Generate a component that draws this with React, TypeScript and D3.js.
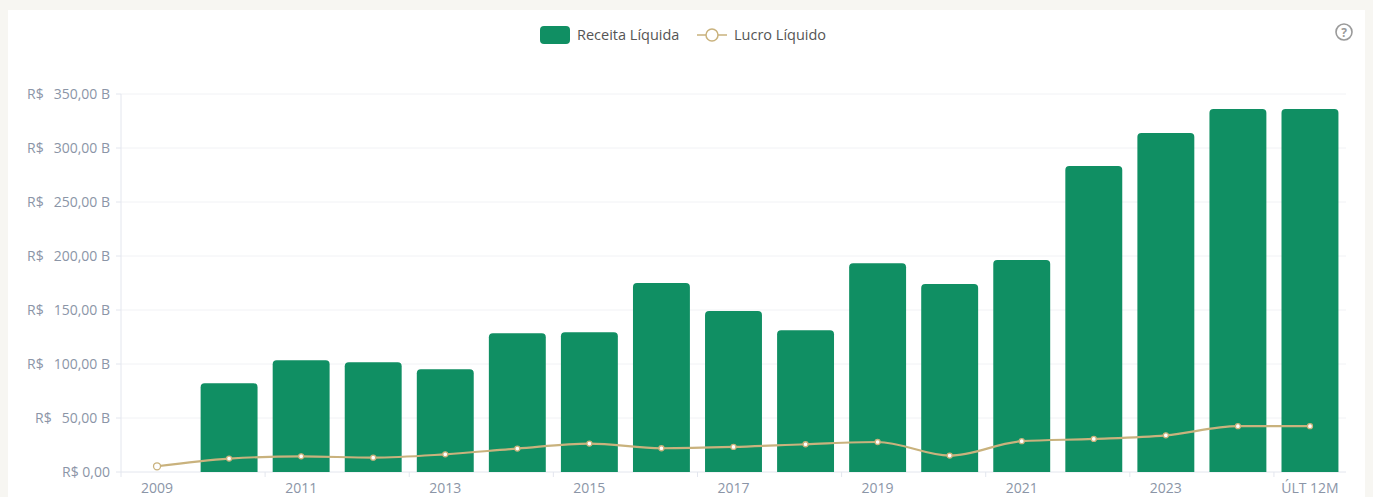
import { useEffect } from 'react';
import { scaleBand, scaleLinear, line, curveMonotoneX } from 'd3';

const categories = ['2009', '2010', '2011', '2012', '2013', '2014', '2015', '2016', '2017', '2018', '2019', '2020', '2021', '2022', '2023', '2024', 'ÚLT 12M'];
const receita: (number | null)[] = [null, 82.2, 103.5, 101.7, 95.2, 128.5, 129.5, 174.9, 149.0, 131.3, 193.4, 174.0, 196.3, 283.4, 314.0, 336.0, 336.0];
const lucro = [5.3, 12.4, 14.5, 13.3, 16.4, 21.7, 26.3, 22.0, 23.2, 25.7, 27.8, 15.2, 28.5, 30.6, 34.0, 42.4, 42.4];
const yTicks = [0, 50, 100, 150, 200, 250, 300, 350];

const W = 1373;
const H = 497;
const margin = { top: 94, right: 27, bottom: 25, left: 121 };
const GREEN = '#108f63';
const TAN = '#c9b27d';
const GRAY = '#8b95a7';
const FONT = '"Open Sans", "Noto Sans", sans-serif';

const num = (v: number) => `${v.toFixed(2).replace('.', ',')} B`;

export default function App() {
  useEffect(() => {
    document.body.style.margin = '0';
  }, []);

  const innerW = W - margin.left - margin.right;
  const innerH = 378;
  const x = scaleBand<string>().domain(categories).range([0, innerW]).paddingInner(0.21).paddingOuter(0.105);
  const band = innerW / categories.length;
  const y = scaleLinear().domain([0, 350]).range([innerH, 0]);
  const cx = (c: string) => (x(c) ?? 0) + x.bandwidth() / 2;

  const lineGen = line<number>()
    .x((_, i) => cx(categories[i]))
    .y(d => y(d))
    .curve(curveMonotoneX);

  const r = 4;
  const barPath = (x0: number, y0: number, w: number, h: number) =>
    `M${x0},${y0 + h}V${y0 + r}Q${x0},${y0} ${x0 + r},${y0}H${x0 + w - r}Q${x0 + w},${y0} ${x0 + w},${y0 + r}V${y0 + h}Z`;

  return (
    <svg width={W} height={H} style={{ display: 'block', fontFamily: FONT }}>
      <rect width={W} height={H} fill="#f7f6f2" />
      <rect x={8} y={10} width={1357} height={H - 10} fill="#ffffff" />

      {/* legend */}
      <g transform="translate(540,26)">
        <rect width={30} height={18} rx={4} fill={GREEN} />
        <text x={37} y={14} fontSize={14.5} fill="#555">Receita Líquida</text>
        <line x1={157} x2={187} y1={9} y2={9} stroke={TAN} strokeWidth={1.5} />
        <circle cx={172} cy={9} r={6} fill="#fff" stroke={TAN} strokeWidth={1.5} />
        <text x={194} y={14} fontSize={14.5} fill="#555">Lucro Líquido</text>
      </g>

      {/* help icon */}
      <g transform="translate(1344,32)">
        <circle r={8} fill="none" stroke="#9a9a9a" strokeWidth={1.6} />
        <text y={4.5} textAnchor="middle" fontSize={12} fontWeight={700} fill="#9a9a9a">?</text>
      </g>

      <g transform={`translate(${margin.left},${margin.top})`}>
        {yTicks.map(t => (
          <g key={t}>
            <line x1={0} x2={innerW} y1={y(t)} y2={y(t)} stroke={t === 0 ? '#e3e6ee' : '#f1f2f5'} />
            <line x1={-5} x2={0} y1={y(t)} y2={y(t)} stroke="#e3e6ee" />
            <text x={-11} y={y(t) + 5} textAnchor="end" fontSize={14} fill={GRAY}>
              {t === 0 ? 'R$ 0,00' : (
                <>
                  <tspan>R$</tspan>
                  <tspan dx={10}>{num(t)}</tspan>
                </>
              )}
            </text>
          </g>
        ))}
        <line x1={0} x2={0} y1={0} y2={innerH} stroke="#e3e6ee" />

        {receita.map((v, i) =>
          v == null ? null : (
            <path key={i} d={barPath(x(categories[i]) ?? 0, y(v), x.bandwidth(), innerH - y(v))} fill={GREEN} />
          )
        )}

        {categories.map((c, i) =>
          i % 2 === 0 ? (
            <g key={c}>
              <line x1={i * band} x2={i * band} y1={innerH} y2={innerH + 5} stroke="#e3e6ee" />
              <text x={cx(c)} y={innerH + 21} textAnchor="middle" fontSize={14} fill={GRAY}>{c}</text>
            </g>
          ) : null
        )}

        <path d={lineGen(lucro) ?? ''} fill="none" stroke={TAN} strokeWidth={2.2} />
        {lucro.map((v, i) => (
          <circle key={i} cx={cx(categories[i])} cy={y(v)} r={i === 0 ? 3.5 : 2.5} fill="#fff" stroke={TAN} strokeWidth={1.3} />
        ))}
      </g>
    </svg>
  );
}
